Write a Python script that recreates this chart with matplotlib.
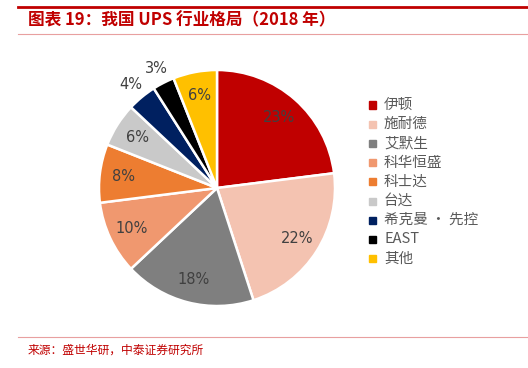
import matplotlib
matplotlib.use('Agg')
import matplotlib.pyplot as plt
from matplotlib.patches import Rectangle
from matplotlib.lines import Line2D

plt.rcParams['font.family'] = ['Noto Sans CJK SC', 'DejaVu Sans']

# data
companies = ['伊顿', '施耐德', '艾默生', '科华恒盛', '科士达', '台达', '希克曼 · 先控', 'EAST', '其他']
shares = [23, 22, 18, 10, 8, 6, 4, 3, 6]
colors = ['#C00000', '#F4C3B1', '#7F7F7F', '#F0986F', '#ED7D31', '#C9C9C9', '#002060', '#000000', '#FFC000']

W, H = 528, 368
fig = plt.figure(figsize=(W / 100, H / 100), dpi=100)

# header / footer rules
fig.add_artist(Line2D([18 / W, 1], [1 - 7 / H, 1 - 7 / H], color='#C00000', lw=2))
fig.add_artist(Line2D([18 / W, 1], [1 - 34 / H, 1 - 34 / H], color='#E8A0A0', lw=0.8))
fig.add_artist(Line2D([18 / W, 1], [1 - 337 / H, 1 - 337 / H], color='#E8A0A0', lw=0.8))

fig.text(28 / W, 1 - 20 / H, '图表 19：我国 UPS 行业格局（2018 年）', color='#C00000',
         fontsize=12, fontweight='bold', fontstyle='italic', va='center', ha='left')
fig.text(28 / W, 1 - 350 / H, '来源：盛世华研，中泰证券研究所', color='#C00000',
         fontsize=8.5, va='center', ha='left')

# pie
cx, cy, r = 217, 188, 118
s = 2.5 * r
ax = fig.add_axes([(cx - s / 2) / W, (H - cy - s / 2) / H, s / W, s / H])
wedges, texts = ax.pie(shares, colors=colors, startangle=90, counterclock=False,
                       radius=1.0, labels=[f'{v}%' for v in shares], labeldistance=0.8,
                       wedgeprops=dict(edgecolor='white', linewidth=1.8),
                       textprops=dict(fontsize=10.5, color='#404040', family='DejaVu Sans'))
for t, v in zip(texts, shares):
    t.set_ha('center')
    t.set_va('center')
    if v <= 4:
        x, y = t.get_position()
        t.set_position((x / 0.8 * 1.14, y / 0.8 * 1.14))
ax.set_xlim(-1.25, 1.25)
ax.set_ylim(-1.25, 1.25)
ax.set_aspect('equal')
ax.axis('off')

# legend
y0, dy = 105, 19.2
for i, (name, c) in enumerate(zip(companies, colors)):
    y = y0 + i * dy
    fig.add_artist(Rectangle((369 / W, 1 - (y + 3.5) / H), 7 / W, 7 / H, color=c,
                             transform=fig.transFigure))
    fig.text(384 / W, 1 - y / H, name, fontsize=10.5, color='#595959', va='center', ha='left')

fig.savefig('out.png', dpi=100)
